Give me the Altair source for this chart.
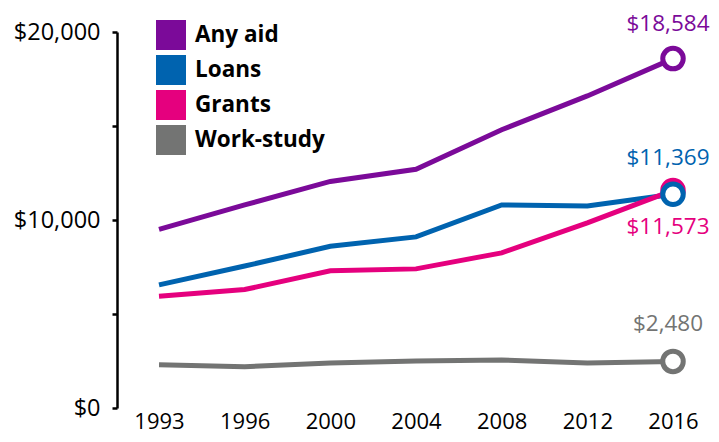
import altair as alt
import pandas as pd

years = ["1993", "1996", "2000", "2004", "2008", "2012", "2016"]
series = ["Any aid", "Loans", "Grants", "Work-study"]
any_aid = [9500, 10800, 12050, 12700, 14800, 16600, 18584]
loans = [6550, 7550, 8600, 9100, 10800, 10750, 11369]
grants = [5950, 6300, 7300, 7400, 8250, 9850, 11573]
work_study = [2300, 2200, 2400, 2500, 2550, 2400, 2480]
colors = ["#7b0a99", "#0063af", "#e5007e", "#737473"]
label_dy = [-35, -36, 37, -37]
y_ticks = [0, 5000, 10000, 15000, 20000]

FONT = "Open Sans"

values = [any_aid, loans, grants, work_study]
rows = []
for s, vals in zip(series, values):
    for yr, v in zip(years, vals):
        rows.append({"year": yr, "series": s, "value": v})
df = pd.DataFrame(rows)

color_scale = alt.Scale(domain=series, range=colors)
x_enc = alt.X("year:O", sort=years,
              scale=alt.Scale(type="point", padding=0.467, align=0.525),
              axis=alt.Axis(labelAngle=0, domain=False, ticks=False, title=None,
                            labelFontSize=22, labelFont=FONT, labelColor="black",
                            labelPadding=3, grid=False))
y_enc = alt.Y("value:Q", scale=alt.Scale(domain=[0, 20000], nice=False),
              axis=alt.Axis(values=y_ticks, title=None, grid=False,
                            labelExpr="datum.value % 10000 === 0 ? '$' + format(datum.value, ',') : ''",
                            tickSize=5, tickWidth=2.5, tickColor="black",
                            domainWidth=2.5, domainColor="black",
                            labelFontSize=23.5, labelFont=FONT, labelColor="black",
                            labelPadding=12))

base = alt.Chart(df)

legend_layer = base.mark_square(opacity=1).encode(
    x=x_enc, y=y_enc,
    color=alt.Color("series:N", scale=color_scale,
                    legend=alt.Legend(title=None, orient="none", legendX=39, legendY=-12,
                                      symbolType="square", symbolSize=900,
                                      symbolStrokeWidth=0, symbolOpacity=1,
                                      labelFontSize=22.5, labelFont=FONT,
                                      labelFontWeight="bold", labelColor="black",
                                      rowPadding=5, labelOffset=9, padding=0)),
).transform_filter("datum.year == 'none'")

lines = base.mark_line(strokeWidth=5).encode(
    x=x_enc, y=y_enc,
    color=alt.Color("series:N", scale=color_scale, legend=None),
    detail="series:N",
)

end_order = ["Any aid", "Work-study", "Grants", "Loans"]
end_df = df[df["year"] == years[-1]].copy()
end_df["ord"] = end_df["series"].map({s: i for i, s in enumerate(end_order)})
end_df = end_df.sort_values("ord")
end_df["label"] = end_df["value"].map(lambda v: "${:,}".format(v))

circles = alt.Chart(end_df).mark_circle(fill="white", fillOpacity=1, strokeWidth=5,
                                        size=420, opacity=1).encode(
    x=x_enc, y=y_enc,
    stroke=alt.Stroke("series:N", scale=color_scale, legend=None),
)

texts = []
for s, dy in zip(series, label_dy):
    texts.append(
        alt.Chart(end_df[end_df["series"] == s]).mark_text(
            dy=dy, dx=-5, fontSize=22.5, font=FONT, align="center", baseline="middle"
        ).encode(
            x=x_enc, y=y_enc, text="label:N",
            color=alt.Color("series:N", scale=color_scale, legend=None),
        )
    )

chart = alt.layer(legend_layer, lines, circles, *texts).properties(
    width=594, height=376,
    autosize=alt.AutoSizeParams(type="none"),
    padding={"left": 109, "top": 24, "right": 0, "bottom": 26},
).configure_view(stroke=None)

chart.save("out.html", embed_options={"renderer": "svg", "actions": False})
